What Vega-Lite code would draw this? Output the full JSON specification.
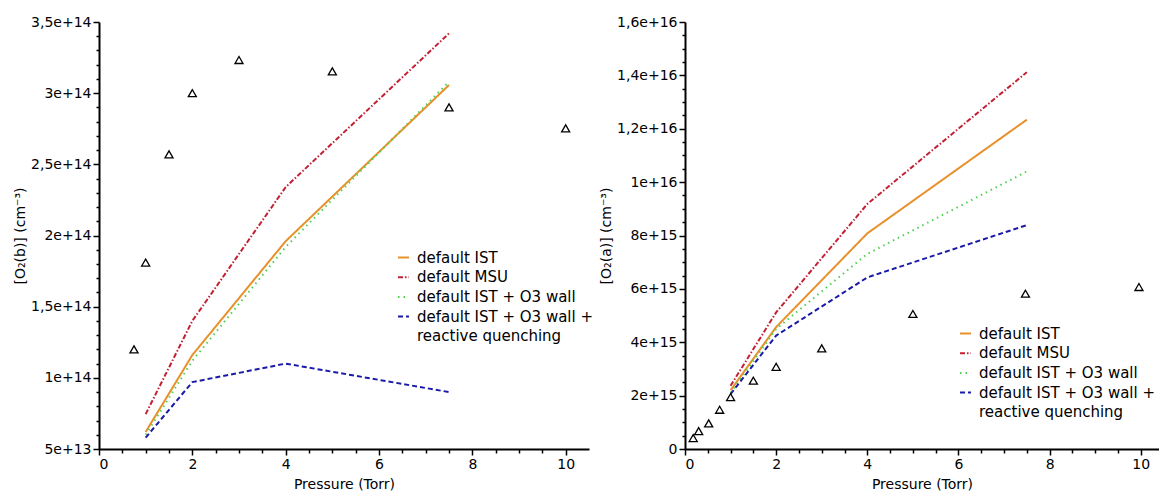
{
  "$schema": "https://vega.github.io/schema/vega-lite/v6.json",
  "autosize": {"type": "pad"},
  "padding": {"left": 13, "top": 15, "right": 0, "bottom": 0},
  "background": "white",
  "bounds": "flush",
  "spacing": 96,
  "config": {
    "view": {"stroke": null},
    "font": "DejaVu Sans",
    "axis": {
      "domainColor": "black", "domainWidth": 2, "tickColor": "black", "tickWidth": 1.5,
      "labelColor": "black", "titleColor": "black", "labelFont": "DejaVu Sans", "titleFont": "DejaVu Sans",
      "labelFontSize": 14, "titleFontSize": 14, "titleFontWeight": "normal", "grid": false, "labelPadding": 2, "labelOverlap": false, "tickCount": 200
    },
    "axisY": {"minExtent": 67, "maxExtent": 67},
    "legend": {"labelFont": "DejaVu Sans", "labelFontSize": 15, "labelColor": "black", "rowPadding": 3.7, "symbolStrokeWidth": 2, "symbolType": "stroke", "symbolSize": 120, "labelOffset": 6, "labelLimit": 400}
  },
  "datasets": {
    "b_lines": [
      {"series": "default IST", "p": 1, "n": 6.2e13},
      {"series": "default IST", "p": 2, "n": 1.16e14},
      {"series": "default IST", "p": 4, "n": 1.96e14},
      {"series": "default IST", "p": 7.5, "n": 3.057e14},
      {"series": "default MSU", "p": 1, "n": 7.45e13},
      {"series": "default MSU", "p": 2, "n": 1.40e14},
      {"series": "default MSU", "p": 4, "n": 2.34e14},
      {"series": "default MSU", "p": 7.5, "n": 3.42e14},
      {"series": "default IST + O3 wall", "p": 1, "n": 6.0e13},
      {"series": "default IST + O3 wall", "p": 2, "n": 1.12e14},
      {"series": "default IST + O3 wall", "p": 4, "n": 1.92e14},
      {"series": "default IST + O3 wall", "p": 7.5, "n": 3.08e14},
      {"series": "default IST + O3 wall +", "p": 1, "n": 5.8e13},
      {"series": "default IST + O3 wall +", "p": 2, "n": 9.7e13},
      {"series": "default IST + O3 wall +", "p": 4, "n": 1.10e14},
      {"series": "default IST + O3 wall +", "p": 7.5, "n": 9.0e13}
    ],
    "b_pts": [
      {"p": 0.75, "n": 1.2e14},
      {"p": 1, "n": 1.81e14},
      {"p": 1.5, "n": 2.57e14},
      {"p": 2, "n": 3.0e14},
      {"p": 3, "n": 3.233e14},
      {"p": 5, "n": 3.153e14},
      {"p": 7.5, "n": 2.9e14},
      {"p": 10, "n": 2.753e14}
    ],
    "a_lines": [
      {"series": "default IST", "p": 1, "n": 2.2e15},
      {"series": "default IST", "p": 2, "n": 4.57e15},
      {"series": "default IST", "p": 4, "n": 8.08e15},
      {"series": "default IST", "p": 7.5, "n": 1.234e16},
      {"series": "default MSU", "p": 1, "n": 2.37e15},
      {"series": "default MSU", "p": 2, "n": 5.12e15},
      {"series": "default MSU", "p": 4, "n": 9.18e15},
      {"series": "default MSU", "p": 7.5, "n": 1.412e16},
      {"series": "default IST + O3 wall", "p": 1, "n": 2.1e15},
      {"series": "default IST + O3 wall", "p": 2, "n": 4.5e15},
      {"series": "default IST + O3 wall", "p": 4, "n": 7.31e15},
      {"series": "default IST + O3 wall", "p": 7.5, "n": 1.04e16},
      {"series": "default IST + O3 wall +", "p": 1, "n": 2.06e15},
      {"series": "default IST + O3 wall +", "p": 2, "n": 4.25e15},
      {"series": "default IST + O3 wall +", "p": 4, "n": 6.43e15},
      {"series": "default IST + O3 wall +", "p": 7.5, "n": 8.39e15}
    ],
    "a_pts": [
      {"p": 0.18, "n": 4.1e14},
      {"p": 0.3, "n": 6.7e14},
      {"p": 0.52, "n": 9.6e14},
      {"p": 0.76, "n": 1.47e15},
      {"p": 1, "n": 1.94e15},
      {"p": 1.5, "n": 2.56e15},
      {"p": 2, "n": 3.08e15},
      {"p": 3, "n": 3.77e15},
      {"p": 5, "n": 5.06e15},
      {"p": 7.47, "n": 5.82e15},
      {"p": 9.96, "n": 6.07e15}
    ]
  },
  "resolve": {"scale": {"color": "independent", "strokeDash": "independent"}},
  "hconcat": [
    {
      "width": 490, "height": 427,
      "layer": [
        {
          "data": {"name": "b_lines"},
          "mark": {"type": "line", "strokeWidth": 2},
          "encoding": {
            "x": {"field": "p", "type": "quantitative", "scale": {"domain": [0, 10.5], "nice": false},
              "axis": {"title": "Pressure (Torr)", "tickCount": 200, "values": [0,0.5,1,1.5,2,2.5,3,3.5,4,4.5,5,5.5,6,6.5,7,7.5,8,8.5,9,9.5,10],
                "labelExpr": "datum.value % 2 == 0 ? format(datum.value, 'd') : ''",
                "tickSize": {"condition": {"test": "datum.value % 2 == 0", "value": 6}, "value": 4},
                "titlePadding": 6}},
            "y": {"field": "n", "type": "quantitative", "scale": {"domain": [5e13, 3.5e14], "nice": false, "zero": false},
              "axis": {"title": "[O₂(b)] (cm⁻³)", "tickCount": 200,
                "values": [5e13,6e13,7e13,8e13,9e13,1e14,1.1e14,1.2e14,1.3e14,1.4e14,1.5e14,1.6e14,1.7e14,1.8e14,1.9e14,2e14,2.1e14,2.2e14,2.3e14,2.4e14,2.5e14,2.6e14,2.7e14,2.8e14,2.9e14,3e14,3.1e14,3.2e14,3.3e14,3.4e14,3.5e14],
                "labelExpr": "abs(datum.value/5e13 - round(datum.value/5e13)) < 1e-6 ? replace(format(datum.value, '.2~e'), '.', ',') : ''",
                "tickSize": {"condition": {"test": "abs(datum.value/5e13 - round(datum.value/5e13)) < 1e-6", "value": 6}, "value": 3},
                "titlePadding": 5}},
            "color": {"field": "series", "type": "nominal",
              "scale": {"domain": ["default IST", "default MSU", "default IST + O3 wall", "default IST + O3 wall +", "reactive quenching"],
                "range": ["#E8902A", "#C42034", "#50D050", "#1A1AA8", "#ffffff"]},
              "legend": {"title": null, "orient": "none", "legendX": 297, "legendY": 228}},
            "strokeDash": {"field": "series", "type": "nominal",
              "scale": {"domain": ["default IST", "default MSU", "default IST + O3 wall", "default IST + O3 wall +", "reactive quenching"],
                "range": [[1,0], [5,2,1.5,2], [1.5,4], [5,3], [1,0]]},
              "legend": {"title": null, "orient": "none", "legendX": 297, "legendY": 228}}
          }
        },
        {
          "data": {"name": "b_pts"},
          "mark": {"type": "point", "shape": "triangle-up", "filled": false, "stroke": "black", "strokeWidth": 1.3, "size": 65, "opacity": 1},
          "encoding": {
            "x": {"field": "p", "type": "quantitative"},
            "y": {"field": "n", "type": "quantitative"}
          }
        }
      ]
    },
    {
      "width": 474, "height": 427,
      "layer": [
        {
          "data": {"name": "a_lines"},
          "mark": {"type": "line", "strokeWidth": 2},
          "encoding": {
            "x": {"field": "p", "type": "quantitative", "scale": {"domain": [0, 10.4], "nice": false},
              "axis": {"title": "Pressure (Torr)", "tickCount": 200, "values": [0,0.5,1,1.5,2,2.5,3,3.5,4,4.5,5,5.5,6,6.5,7,7.5,8,8.5,9,9.5,10],
                "labelExpr": "datum.value % 2 == 0 ? format(datum.value, 'd') : ''",
                "tickSize": {"condition": {"test": "datum.value % 2 == 0", "value": 6}, "value": 4},
                "titlePadding": 6}},
            "y": {"field": "n", "type": "quantitative", "scale": {"domain": [0, 1.6e16], "nice": false},
              "axis": {"title": "[O₂(a)] (cm⁻³)", "tickCount": 200,
                "values": [0,5e14,1e15,1.5e15,2e15,2.5e15,3e15,3.5e15,4e15,4.5e15,5e15,5.5e15,6e15,6.5e15,7e15,7.5e15,8e15,8.5e15,9e15,9.5e15,1e16,1.05e16,1.1e16,1.15e16,1.2e16,1.25e16,1.3e16,1.35e16,1.4e16,1.45e16,1.5e16,1.55e16,1.6e16],
                "labelExpr": "datum.value == 0 ? '0' : (abs(datum.value/2e15 - round(datum.value/2e15)) < 1e-6 ? replace(format(datum.value, '.2~e'), '.', ',') : '')",
                "tickSize": {"condition": {"test": "abs(datum.value/2e15 - round(datum.value/2e15)) < 1e-6", "value": 6}, "value": 3},
                "titlePadding": 5}},
            "color": {"field": "series", "type": "nominal",
              "scale": {"domain": ["default IST", "default MSU", "default IST + O3 wall", "default IST + O3 wall +", "reactive quenching"],
                "range": ["#E8902A", "#C42034", "#50D050", "#1A1AA8", "#ffffff"]},
              "legend": {"title": null, "orient": "none", "legendX": 273, "legendY": 304}},
            "strokeDash": {"field": "series", "type": "nominal",
              "scale": {"domain": ["default IST", "default MSU", "default IST + O3 wall", "default IST + O3 wall +", "reactive quenching"],
                "range": [[1,0], [5,2,1.5,2], [1.5,4], [5,3], [1,0]]},
              "legend": {"title": null, "orient": "none", "legendX": 273, "legendY": 304}}
          }
        },
        {
          "data": {"name": "a_pts"},
          "mark": {"type": "point", "shape": "triangle-up", "filled": false, "stroke": "black", "strokeWidth": 1.3, "size": 65, "opacity": 1},
          "encoding": {
            "x": {"field": "p", "type": "quantitative"},
            "y": {"field": "n", "type": "quantitative"}
          }
        }
      ]
    }
  ]
}
